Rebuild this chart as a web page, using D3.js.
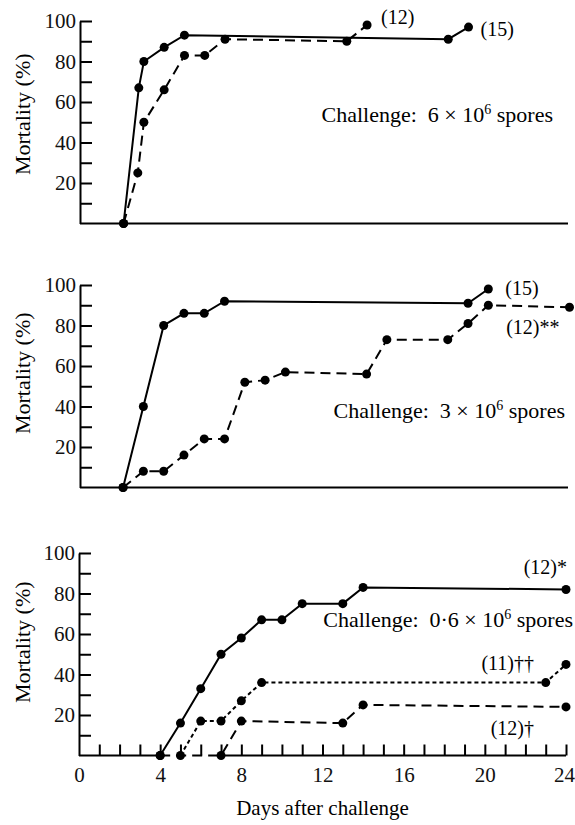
<!DOCTYPE html>
<meta charset="utf-8">
<title>Mortality after challenge</title>
<style>
body {
  margin: 0px;
  background: #fff;
}
svg, svg text {
  font-family: "Liberation Serif", "Times New Roman", serif;
}
.domain, .tick line, .base {
  stroke: #000;
  stroke-width: 2;
  fill: none;
}
.tick text {
  font-family: "Liberation Serif", "Times New Roman", serif;
  font-size: 21px;
  fill: #111;
}
.curve {
  fill: none;
  stroke: #000;
  stroke-width: 2;
}
</style>

<body>
  <svg id="chart" width="575" height="825"></svg>
</body>

<script src="https://d3js.org/d3.v7.min.js"></script>

<script type="text/javascript">

// top panel, challenge 6 x 10^6 spores
var daysTopA = [2, 2.75, 3, 4, 5, 18, 19];
var mortTopA = [0, 67, 80, 87, 93, 91, 97];
var daysTopB = [2, 2.7, 3, 4, 5, 6, 7, 13, 14];
var mortTopB = [0, 25, 50, 66, 83, 83, 91, 90, 98];

// middle panel, challenge 3 x 10^6 spores
var daysMidA = [2, 3, 4, 5, 6, 7, 19, 20];
var mortMidA = [0, 40, 80, 86, 86, 92, 91, 98];
var daysMidB = [2, 3, 4, 5, 6, 7, 8, 9, 10, 14, 15, 18, 19, 20, 24];
var mortMidB = [0, 8, 8, 16, 24, 24, 52, 53, 57, 56, 73, 73, 81, 90, 89];

// bottom panel, challenge 0.6 x 10^6 spores
var daysLowA = [4, 5, 6, 7, 8, 9, 10, 11, 13, 14, 24];
var mortLowA = [0, 16, 33, 50, 58, 67, 67, 75, 75, 83, 82];
var daysLowB = [5, 6, 7, 8, 9, 23, 24];
var mortLowB = [0, 17, 17, 27, 36, 36, 45];
var daysLowC = [4, 7, 8, 13, 14, 24];
var mortLowC = [0, 0, 17, 16, 25, 24];

var tagsTop = ["(15)", "(12)"];
var tagsMid = ["(15)", "(12)**"];
var tagsLow = ["(12)*", "(11)\u2020\u2020", "(12)\u2020"];
var doses = ["6", "3", "0\u00b76"];

var yTicks = d3.range(10, 101, 10);
var dayTicks = d3.range(1, 25);
var dayLabels = [0, 4, 8, 12, 16, 20, 24];
var baseGap = [4, 7];   // axis line is broken under the dashed run

var svg = d3.select("#chart");
var panelH = 202.5;

function zip(days, mort) {
  return days.map(function(d, i) { return [d, mort[i]]; });
}

var panels = [
  { top: 21, shift: 4, textX: 553, textDy: 101, titleDy: -8,
    series: [
      { pts: zip(daysTopA, mortTopA), dash: null, tag: tagsTop[0], dx: 12, dy: 9, anchor: "start" },
      { pts: zip(daysTopB, mortTopB), dash: "10,6", tag: tagsTop[1], dx: 14, dy: -1, anchor: "start" }
    ] },
  { top: 285, shift: 3.5, textX: 565, textDy: 133, titleDy: -13,
    series: [
      { pts: zip(daysMidA, mortMidA), dash: null, tag: tagsMid[0], dx: 17, dy: 6, anchor: "start" },
      { pts: zip(daysMidB, mortMidB), dash: "10,6", tag: tagsMid[1], dx: -10, dy: 27, anchor: "end" }
    ] },
  { top: 553, shift: 0, textX: 573, textDy: 74, titleDy: -12, bottom: true,
    series: [
      { pts: zip(daysLowA, mortLowA), dash: null, tag: tagsLow[0], dx: 1, dy: -15, anchor: "end" },
      { pts: zip(daysLowB, mortLowB), dash: "4,3", tag: tagsLow[1], dx: -32, dy: 6, anchor: "end" },
      { pts: zip(daysLowC, mortLowC), dash: "10,6", tag: tagsLow[2], dx: -32, dy: 28, anchor: "end" }
    ] }
];

panels.forEach(function(p, pi) {
  var g = svg.append("g");
  var y = d3.scaleLinear().domain([0, 100]).range([p.top + panelH, p.top]);
  var x = d3.scaleLinear().domain([0, 24]).range([79 + p.shift, 566 + p.shift]);
  var xAxisScale = d3.scaleLinear().domain([0, 24]).range([79, 566]);

  // y axis, ticks pointing inward
  g.append("g")
    .attr("transform", "translate(" + (79 + (p.bottom ? 0 : 1)) + ",0)")
    .call(d3.axisLeft(y)
      .tickValues(yTicks)
      .tickSize(-12)
      .tickSizeOuter(0)
      .tickPadding(4)
      .tickFormat(function(d) { return d % 20 == 0 ? d : ""; }));

  // x axis
  if (p.bottom) {
    var ax = g.append("g")
      .attr("transform", "translate(0," + y(0) + ")")
      .call(d3.axisBottom(xAxisScale)
        .tickValues(dayTicks.concat([0]))
        .tickSize(-11)
        .tickSizeOuter(0)
        .tickPadding(12)
        .tickFormat(function(d) { return dayLabels.indexOf(d) >= 0 ? d : ""; }));
    ax.select(".domain").remove();
    ax.selectAll(".tick").filter(function(d) { return d == 0; }).select("line").remove();
    ax.selectAll(".tick").filter(function(d) { return d == 24; }).select("text").attr("dx", -2);
    [[0, baseGap[0]], [baseGap[1], 24]].forEach(function(seg) {
      g.append("line").attr("class", "base")
        .attr("x1", xAxisScale(seg[0])).attr("x2", xAxisScale(seg[1]))
        .attr("y1", y(0)).attr("y2", y(0));
    });
  } else {
    g.append("line").attr("class", "base")
      .attr("x1", 80).attr("x2", xAxisScale(24) + 2)
      .attr("y1", y(0)).attr("y2", y(0));
  }

  // y title
  g.append("text")
    .attr("transform", "translate(30," + (p.top + panelH / 2 + p.titleDy) + ") rotate(-90)")
    .attr("text-anchor", "middle")
    .style("font-size", "22px")
    .text("Mortality (%)");

  var line = d3.line()
    .x(function(d) { return x(d[0]); })
    .y(function(d) { return y(d[1]); });

  p.series.forEach(function(s) {
    g.append("path")
      .attr("class", "curve")
      .attr("d", line(s.pts))
      .attr("stroke-dasharray", s.dash);

    g.selectAll(null)
      .data(s.pts)
      .enter()
      .append("circle")
      .attr("cx", function(d) { return x(d[0]); })
      .attr("cy", function(d) { return y(d[1]); })
      .attr("r", 4.5)
      .style("fill", "#000");

    var last = s.pts[s.pts.length - 1];
    g.append("text")
      .attr("x", x(last[0]) + s.dx)
      .attr("y", y(last[1]) + s.dy)
      .attr("text-anchor", s.anchor)
      .style("font-size", "20px")
      .text(s.tag);
  });

  // challenge label
  var t = g.append("text")
    .attr("x", p.textX)
    .attr("y", p.top + p.textDy)
    .attr("text-anchor", "end")
    .style("font-size", "22px");
  t.append("tspan").text("Challenge:\u2002" + doses[pi] + " \u00d7 10");
  t.append("tspan").attr("dy", -8).style("font-size", "14px").text("6");
  t.append("tspan").attr("dy", 8).text(" spores");

  if (p.bottom) {
    g.append("text")
      .attr("x", (xAxisScale(0) + xAxisScale(24)) / 2)
      .attr("y", 815)
      .attr("text-anchor", "middle")
      .style("font-size", "21px")
      .text("Days after challenge");
  }
});

</script>
